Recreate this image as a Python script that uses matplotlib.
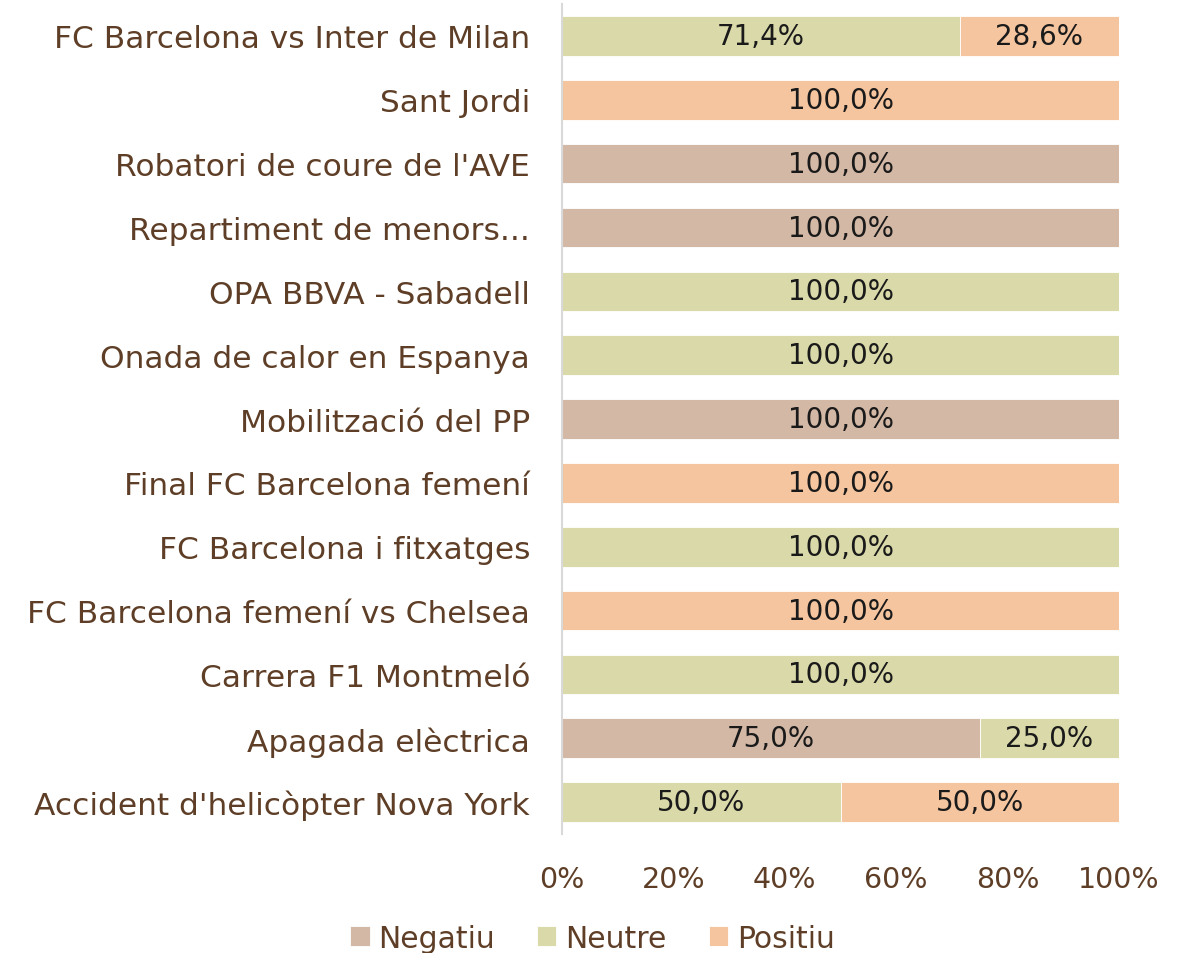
import matplotlib.pyplot as plt
import numpy as np

# data, top to bottom as in the chart
temes = ["FC Barcelona vs Inter de Milan", "Sant Jordi", "Robatori de coure de l'AVE",
         "Repartiment de menors...", "OPA BBVA - Sabadell", "Onada de calor en Espanya",
         "Mobilització del PP", "Final FC Barcelona femení", "FC Barcelona i fitxatges",
         "FC Barcelona femení vs Chelsea", "Carrera F1 Montmeló", "Apagada elèctrica",
         "Accident d'helicòpter Nova York"]
negatiu = [0, 0, 100, 100, 0, 0, 100, 0, 0, 0, 0, 75, 0]
neutre = [71.4, 0, 0, 0, 100, 100, 0, 0, 100, 0, 100, 25, 50]
positiu = [28.6, 100, 0, 0, 0, 0, 0, 100, 0, 100, 0, 0, 50]

series = [("Negatiu", negatiu, "#D3B8A5"),
          ("Neutre", neutre, "#D9D9A9"),
          ("Positiu", positiu, "#F4C59F")]

brown = "#5E3E26"
plt.rcParams['font.family'] = ['DejaVu Sans']

fig = plt.figure(figsize=(11.85, 9.54), dpi=100)
ax = fig.add_axes([0.4743, 0.1247, 0.47, 0.870])

y = np.arange(len(temes))[::-1]
left = np.zeros(len(temes))
for name, vals, col in series:
    vals = np.array(vals, dtype=float)
    bars = ax.barh(y, vals, left=left, height=0.62, color=col, label=name,
                   edgecolor="white", linewidth=0.6)
    for b, v in zip(bars, vals):
        if v > 0:
            ax.text(b.get_x() + b.get_width() / 2, b.get_y() + b.get_height() / 2,
                    f"{v:.1f}%".replace(".", ","), ha="center", va="center",
                    fontsize=20, color="#1a1a1a")
    left += vals

ax.set_xlim(0, 100)
ax.set_ylim(-0.5, len(temes) - 0.5)
ax.set_yticks(y)
ax.set_yticklabels(temes, fontsize=22.5, color=brown)
ax.set_xticks(np.arange(0, 101, 20))
ax.set_xticklabels([f"{t}%" for t in range(0, 101, 20)], fontsize=20.5, color=brown)
ax.tick_params(axis="both", length=0)
ax.tick_params(axis="x", pad=22)
ax.tick_params(axis="y", pad=23)
for s in ["top", "right", "bottom"]:
    ax.spines[s].set_visible(False)
ax.spines["left"].set_color("#D9D9D9")
ax.spines["left"].set_linewidth(1.5)

fig.legend(loc="lower center", bbox_to_anchor=(0.5, -0.028), ncol=3, frameon=False,
           fontsize=21.5, handlelength=0.65, handleheight=0.65, handletextpad=0.3,
           columnspacing=1.4, labelcolor=brown)

fig.savefig("out.png", dpi=100)
